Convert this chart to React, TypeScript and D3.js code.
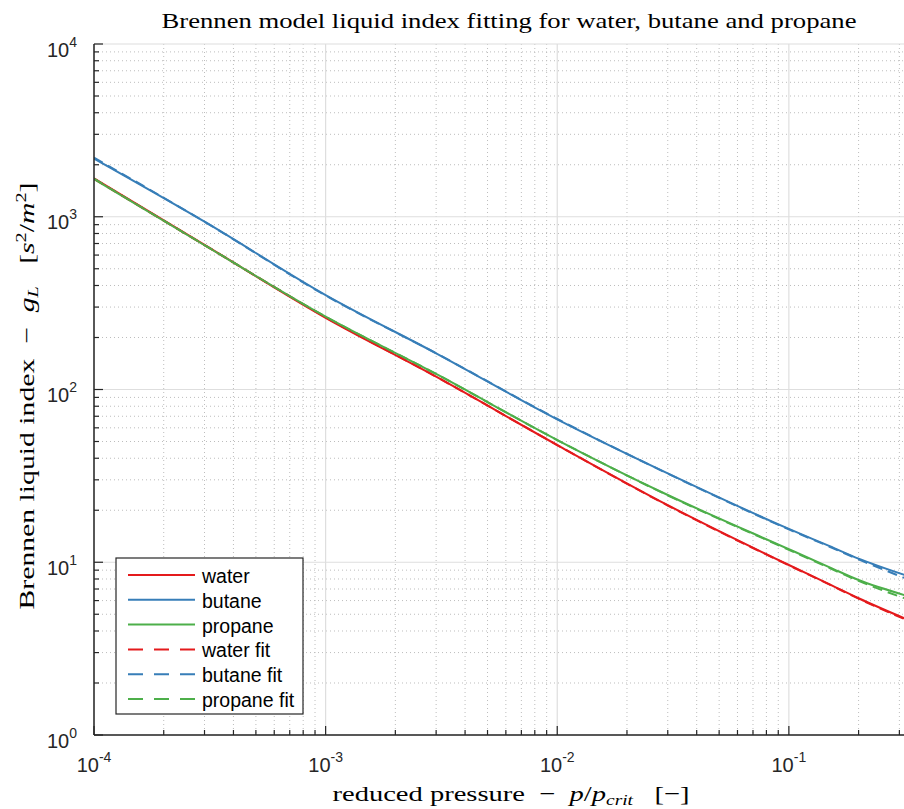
import React from "react";
import * as d3 from "d3";

const pressure = [1e-4, 3e-4, 1e-3, 3e-3, 1e-2, 3e-2, 1e-1, 1.5e-1, 2e-1, 3.2e-1];
const water = [1670, 688, 260, 118.6, 47.7, 21.4, 9.64, 7.45, 6.19, 4.7];
const butane = [2170, 936, 352, 162, 67.2, 32.7, 15.6, 12.4, 10.5, 8.4];
const propane = [1650, 684, 264, 123, 51.0, 24.5, 11.9, 9.35, 7.89, 6.42];
const waterFit = [1660, 686, 262, 118.6, 47.7, 21.3, 9.6, 7.42, 6.15, 4.65];
const butaneFit = [2200, 936, 350, 162, 67.5, 32.6, 15.5, 12.3, 10.4, 8.05];
const propaneFit = [1660, 686, 264, 123, 51.0, 24.4, 11.8, 9.25, 7.8, 6.15];

const seriesNames = ["water", "butane", "propane", "water fit", "butane fit", "propane fit"];
const seriesColors = ["#E41A1C", "#377EB8", "#4DAF4A", "#E41A1C", "#377EB8", "#4DAF4A"];
const seriesDashed = [false, false, false, true, true, true];
const seriesValues = [water, butane, propane, waterFit, butaneFit, propaneFit];

const xTickExps = [-4, -3, -2, -1];
const yTickExps = [0, 1, 2, 3, 4];
const titleText = "Brennen model liquid index fitting for water, butane and propane";

const W = 904;
const H = 809;
const left = 94;
const right = 924;
const top = 44;
const bottom = 735;
const xMax = 0.3832;

export default function App() {
  const x = d3.scaleLog().domain([1e-4, xMax]).range([left, right]);
  const y = d3.scaleLog().domain([1, 1e4]).range([bottom, top]);

  const line = (vals: number[]) =>
    d3
      .line<number>()
      .x((_, i) => x(pressure[i]))
      .y((v) => y(v))
      .curve(d3.curveMonotoneX)(vals) || "";

  const xMinor: number[] = [];
  for (let e = -4; e <= -1; e++) {
    for (let m = 2; m <= 9; m++) {
      const v = m * Math.pow(10, e);
      if (v <= xMax) xMinor.push(v);
    }
  }
  const yMinor: number[] = [];
  for (let e = 0; e < 4; e++) {
    for (let m = 2; m <= 9; m++) yMinor.push(m * Math.pow(10, e));
  }
  const xMajor = xTickExps.map((e) => Math.pow(10, e));
  const yMajor = yTickExps.map((e) => Math.pow(10, e));

  const sans = "'Liberation Sans', Arial, Helvetica, sans-serif";
  const serif = "'Liberation Serif', 'Times New Roman', serif";
  const axisColor = "#262626";
  const pre = { whiteSpace: "pre" as const };

  const legX = 116;
  const legY = 558;
  const legW = 187;
  const legH = 156;
  const rowH = 24.8;

  return (
    <svg width={W} height={H} style={{ position: "absolute", left: 0, top: 0, background: "#fff" }}>
      <defs>
        <clipPath id="plotClip">
          <rect x={left} y={top} width={right - left} height={bottom - top} />
        </clipPath>
      </defs>
      <rect x={0} y={0} width={W} height={H} fill="#fff" />
      {/* minor grid */}
      {xMinor.map((v, i) => (
        <line key={"xm" + i} x1={x(v)} x2={x(v)} y1={top} y2={bottom} stroke="#bdbdbd" strokeWidth={1} strokeDasharray="1,3" />
      ))}
      {yMinor.map((v, i) => (
        <line key={"ym" + i} x1={left} x2={right} y1={y(v)} y2={y(v)} stroke="#bdbdbd" strokeWidth={1} strokeDasharray="1,3" />
      ))}
      {/* major grid */}
      {xMajor.map((v, i) => (
        <line key={"xg" + i} x1={x(v)} x2={x(v)} y1={top} y2={bottom} stroke="#dedede" strokeWidth={1.2} />
      ))}
      {yMajor.map((v, i) => (
        <line key={"yg" + i} x1={left} x2={right} y1={y(v)} y2={y(v)} stroke="#dedede" strokeWidth={1.2} />
      ))}
      {/* data */}
      <g clipPath="url(#plotClip)">
        {seriesValues.map((vals, i) => (
          <path
            key={"s" + i}
            d={line(vals)}
            fill="none"
            stroke={seriesColors[i]}
            strokeWidth={2}
            strokeDasharray={seriesDashed[i] ? "10,6" : undefined}
          />
        ))}
      </g>
      {/* axes */}
      <line x1={left} x2={left} y1={top} y2={bottom} stroke={axisColor} strokeWidth={1.5} />
      <line x1={left} x2={right} y1={bottom} y2={bottom} stroke={axisColor} strokeWidth={1.5} />
      {yMajor.map((v, i) => (
        <line key={"yt" + i} x1={left} x2={left + 9} y1={y(v)} y2={y(v)} stroke={axisColor} strokeWidth={1.2} />
      ))}
      {yMinor.map((v, i) => (
        <line key={"ytm" + i} x1={left} x2={left + 5} y1={y(v)} y2={y(v)} stroke={axisColor} strokeWidth={1.2} />
      ))}
      {xMajor.map((v, i) => (
        <line key={"xt" + i} x1={x(v)} x2={x(v)} y1={bottom} y2={bottom - 9} stroke={axisColor} strokeWidth={1.2} />
      ))}
      {xMinor.map((v, i) => (
        <line key={"xtm" + i} x1={x(v)} x2={x(v)} y1={bottom} y2={bottom - 5} stroke={axisColor} strokeWidth={1.2} />
      ))}
      {/* y tick labels */}
      {yTickExps.map((e, i) => (
        <text key={"yl" + i} x={left - 17} y={y(Math.pow(10, e)) + 12.5} textAnchor="end" fontFamily={sans} fontSize={20} fill={axisColor}>
          10
          <tspan dy={-10} fontSize={14}>{String(e)}</tspan>
        </text>
      ))}
      {/* x tick labels */}
      {xTickExps.map((e, i) => (
        <text key={"xl" + i} x={x(Math.pow(10, e))} y={bottom + 37} textAnchor="middle" fontFamily={sans} fontSize={20} fill={axisColor}>
          10
          <tspan dy={-10} fontSize={14}>{"-" + String(-e)}</tspan>
        </text>
      ))}
      {/* title */}
      <text
        x={(left + right) / 2}
        y={28}
        textAnchor="middle"
        fontFamily={serif}
        fontSize={22}
        fill="#000"
        textLength={695}
        lengthAdjust="spacingAndGlyphs"
      >
        {titleText}
      </text>
      {/* x label */}
      <text
        x={(left + right) / 2 + 2}
        y={801}
        textAnchor="middle"
        fontFamily={serif}
        fontSize={22}
        fill="#000"
        style={pre}
        textLength={357}
        lengthAdjust="spacingAndGlyphs"
      >
        {"reduced pressure  \u2212  "}
        <tspan fontStyle="italic">p</tspan>/<tspan fontStyle="italic">p</tspan>
        <tspan fontStyle="italic" fontSize={15} dy={4}>crit</tspan>
        <tspan dy={-4}>{"   [\u2212]"}</tspan>
      </text>
      {/* y label */}
      <text
        transform={`translate(34, 396) rotate(-90)`}
        textAnchor="middle"
        fontFamily={serif}
        fontSize={22}
        fill="#000"
        style={pre}
        textLength={427}
        lengthAdjust="spacingAndGlyphs"
      >
        {"Brennen liquid index  \u2212  "}
        <tspan fontStyle="italic">g</tspan>
        <tspan fontStyle="italic" fontSize={15} dy={4}>L</tspan>
        <tspan dy={-4}>{"   ["}</tspan>
        <tspan fontStyle="italic">s</tspan>
        <tspan fontSize={15} dy={-8}>2</tspan>
        <tspan dy={8}>/</tspan>
        <tspan fontStyle="italic">m</tspan>
        <tspan fontSize={15} dy={-8}>2</tspan>
        <tspan dy={8}>]</tspan>
      </text>
      {/* legend */}
      <rect x={legX} y={legY} width={legW} height={legH} fill="#fff" stroke={axisColor} strokeWidth={1.2} />
      {seriesNames.map((n, i) => {
        const cy = legY + 17 + i * rowH;
        return (
          <g key={"lg" + i}>
            <line
              x1={legX + 12}
              x2={legX + 79}
              y1={cy}
              y2={cy}
              stroke={seriesColors[i]}
              strokeWidth={2}
              strokeDasharray={seriesDashed[i] ? "15,11" : undefined}
            />
            <text x={legX + 86} y={cy + 8} fontFamily={sans} fontSize={19.5} fill="#000">
              {n}
            </text>
          </g>
        );
      })}
    </svg>
  );
}
